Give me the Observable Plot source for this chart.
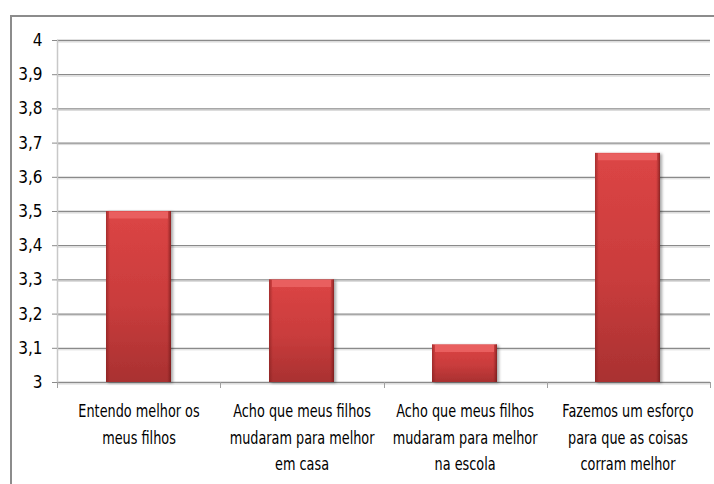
<!DOCTYPE html>
<html>
<head>
<meta charset="utf-8">
<script src="https://cdn.jsdelivr.net/npm/d3@7"></script>
<script src="https://cdn.jsdelivr.net/npm/@observablehq/plot@0.6"></script>
<style>
  html, body { margin: 0; padding: 0; background: #fff; }
  #wrap { position: relative; width: 714px; height: 484px; overflow: hidden; }
  #frame {
    position: absolute; left: 10px; top: 15px; width: 900px; height: 700px;
    border-left: 2px solid #8c8c8c; border-top: 2px solid #8c8c8c;
    pointer-events: none;
  }
  #chart { position: absolute; left: 0; top: 0; }
</style>
</head>
<body>
<div id="wrap"><div id="chart"></div><div id="frame"></div></div>
<script>
// Survey statements (wrapped over several lines) and their mean scores
const categories = [
  "Entendo melhor os\nmeus filhos",
  "Acho que meus filhos\nmudaram para melhor\nem casa",
  "Acho que meus filhos\nmudaram para melhor\nna escola",
  "Fazemos um esforço\npara que as coisas\ncorram melhor"
];
const scores = [3.5, 3.3, 3.11, 3.67];
const yTicks = [3, 3.1, 3.2, 3.3, 3.4, 3.5, 3.6, 3.7, 3.8, 3.9, 4];
const baseline = 3;

const data = categories.map((c, i) => ({category: c, score: scores[i]}));
const fontFamily = "'DejaVu Sans Condensed', 'DejaVu Sans', sans-serif";

// Small tick marks at the boundaries between categories, below the x axis
function bandBoundaries(index, scales, values, dims) {
  const g = d3.create("svg:g");
  const n = categories.length;
  const x0 = dims.marginLeft, x1 = dims.width - dims.marginRight;
  const y = dims.height - dims.marginBottom;
  for (let k = 0; k <= n; ++k) {
    const x = Math.round(x0 + k * (x1 - x0) / n) + 0.5;
    g.append("line").attr("x1", x).attr("x2", x).attr("y1", y).attr("y2", y + 6)
      .attr("stroke", "#a0a0a0");
  }
  return g.node();
}

const chart = Plot.plot({
  width: 714,
  height: 484,
  marginLeft: 57,
  marginRight: 4,
  marginTop: 40,
  marginBottom: 102,
  style: {fontFamily, fontSize: "17px", color: "#000", background: "transparent", overflow: "visible"},
  x: {domain: categories, paddingInner: 0.6, paddingOuter: 0.3},
  y: {domain: [3, 4]},
  marks: [
    Plot.ruleY(yTicks, {stroke: "#8a8a8a", strokeWidth: 1.3}),
    Plot.ruleY(yTicks, {stroke: "#d8d8d8", dy: 1.5}),
    Plot.frame({anchor: "left", stroke: "#c8c8c8", strokeWidth: 1.5}),
    Plot.axisY(yTicks, {
      tickFormat: d => String(d).replace(".", ","),
      tickSize: 5, tickPadding: 10, stroke: "#8a8a8a", label: null, fontSize: 17
    }),
    Plot.barY(data, {
      x: "category", y1: baseline, y2: "score",
      fill: "url(#barFill)"
    }),
    Plot.barY(data, {
      x: "category", y1: baseline, y2: "score",
      fill: "url(#barEdges)"
    }),
    // bevelled highlight along each bar top
    Plot.tickY(data, {x: "category", y: "score", stroke: "#e95f5f", strokeWidth: 7, dy: 3.5, insetLeft: 3, insetRight: 3}),
    Plot.axisX({tickSize: 0, tickPadding: 16, lineHeight: 1.55, label: null, fontSize: 17}),
    bandBoundaries
  ]
});

// Gradients and shadow that give the bars their glossy, raised look
const defs = d3.select(chart).insert("defs", ":first-child");
const fill = defs.append("linearGradient").attr("id", "barFill")
  .attr("x1", 0).attr("y1", 0).attr("x2", 0).attr("y2", 1);
fill.append("stop").attr("offset", "0%").attr("stop-color", "#dc4545");
fill.append("stop").attr("offset", "55%").attr("stop-color", "#c93c3c");
fill.append("stop").attr("offset", "100%").attr("stop-color", "#a93131");
const edges = defs.append("linearGradient").attr("id", "barEdges")
  .attr("x1", 0).attr("y1", 0).attr("x2", 1).attr("y2", 0);
edges.append("stop").attr("offset", "0%").attr("stop-color", "#7a1c1c").attr("stop-opacity", 0.55);
edges.append("stop").attr("offset", "6%").attr("stop-color", "#7a1c1c").attr("stop-opacity", 0);
edges.append("stop").attr("offset", "94%").attr("stop-color", "#7a1c1c").attr("stop-opacity", 0);
edges.append("stop").attr("offset", "100%").attr("stop-color", "#6a1515").attr("stop-opacity", 0.7);
const shadow = defs.append("filter").attr("id", "barShadow")
  .attr("x", "-20%").attr("y", "-10%").attr("width", "150%").attr("height", "130%");
shadow.append("feDropShadow").attr("dx", 2).attr("dy", 1).attr("stdDeviation", 1.5)
  .attr("flood-color", "#000").attr("flood-opacity", 0.35);
d3.select(chart).select("g[aria-label='bar']").attr("filter", "url(#barShadow)");

document.getElementById("chart").appendChild(chart);

// The category labels are set in a narrower width so neighbouring labels do not collide
const labelSet = new Set(categories);
d3.select(chart).selectAll("text").each(function() {
  const lines = Array.from(this.querySelectorAll("tspan"), t => t.textContent).join("\n");
  if (!labelSet.has(lines) && !labelSet.has(this.textContent)) return;
  const b = this.getBBox();
  const cx = b.x + b.width / 2;
  const prev = this.getAttribute("transform") || "";
  this.setAttribute("transform", `${prev} translate(${cx},0) scale(0.84,1) translate(${-cx},0)`);
});
</script>
</body>
</html>
